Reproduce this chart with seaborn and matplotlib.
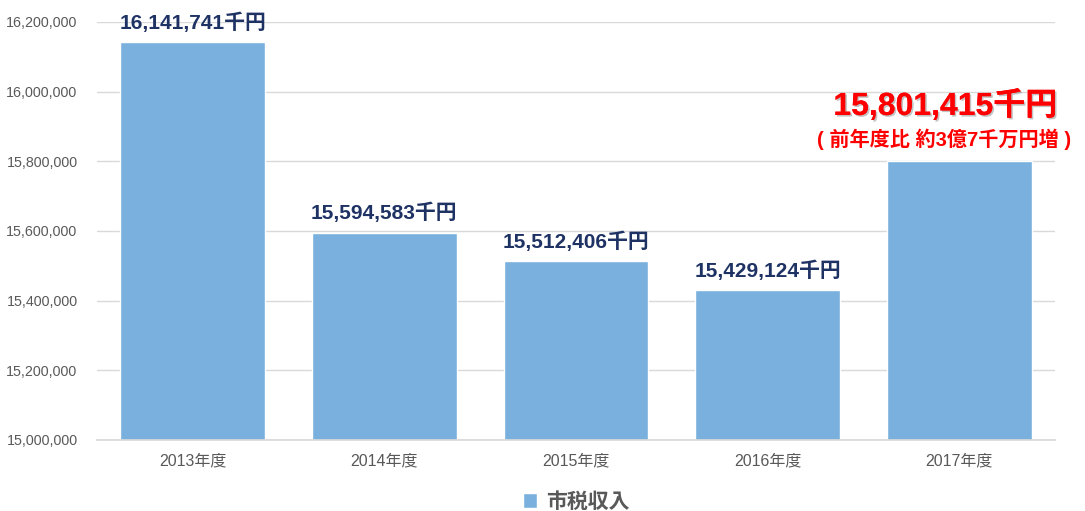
import matplotlib
matplotlib.use("Agg")
import matplotlib.pyplot as plt
import matplotlib.patheffects as pe
from matplotlib.ticker import FuncFormatter
import pandas as pd
import seaborn as sns

years = ["2013年度", "2014年度", "2015年度", "2016年度", "2017年度"]
revenue = [16141741000, 15594583000, 15512406000, 15429124000, 15801415000]
labels = ["16,141,741千円", "15,594,583千円", "15,512,406千円", "15,429,124千円", "15,801,415千円"]
note = "( 前年度比 約3億7千万円増 )"
series_name = "市税収入"

df = pd.DataFrame({"year": years, "revenue": [v / 1000 for v in revenue]})

sns.set_theme(style="whitegrid")
plt.rcParams["font.family"] = ["Liberation Sans", "Noto Sans CJK JP"]

fig = plt.figure(figsize=(10.85, 5.11), dpi=100)
ax = fig.add_axes([0.0894, 0.139, 0.883, 0.818])

bar_color = "#79B0DD"
sns.barplot(data=df, x="year", y="revenue", color=bar_color, width=0.755,
            saturation=1, label=series_name, ax=ax)

ax.set_ylim(15000000, 16200000)
ax.set_xlim(-0.5, 4.5)
ax.set_yticks(range(15000000, 16200001, 200000))
ax.yaxis.set_major_formatter(FuncFormatter(lambda v, p: f"{int(v):,}"))
ax.grid(axis="y", color="#D9D9D9", linewidth=1)
ax.grid(axis="x", visible=False)
ax.set_axisbelow(True)
for s in ["left", "right", "top"]:
    ax.spines[s].set_visible(False)
ax.spines["bottom"].set_color("#D9D9D9")
ax.set_xlabel("")
ax.set_ylabel("")
ax.tick_params(axis="y", labelsize=10.3, colors="#595959", length=0, pad=14)
ax.tick_params(axis="x", labelsize=11.5, colors="#595959", length=0, pad=10)
ax.set_facecolor("white")

navy = "#1F3264"
for i, (v, lab) in enumerate(zip(df["revenue"], labels)):
    if i == len(labels) - 1:
        continue
    ax.annotate(lab, (i, v), xytext=(0, 7), textcoords="offset points",
                ha="center", va="bottom", fontsize=15, fontweight="bold", color=navy)

shadow = [pe.withSimplePatchShadow(offset=(1.2, -1.2), shadow_rgbFace="#888888", alpha=0.5), pe.Normal()]
last = len(labels) - 1
ax.annotate(labels[last], (last, df["revenue"][last]), xytext=(-10, 28), textcoords="offset points",
            ha="center", va="bottom", fontsize=23, fontweight="bold", color="#FF0000",
            path_effects=shadow)
ax.annotate(note, (last, df["revenue"][last]), xytext=(-11, 8), textcoords="offset points",
            ha="center", va="bottom", fontsize=14.5, fontweight="bold", color="#FF0000")

leg = ax.legend(loc="center", bbox_to_anchor=(0.5, -0.148), frameon=False,
                handlelength=0.7, handleheight=0.7, handletextpad=0.4,
                prop={"size": 15, "weight": "bold"})
for t in leg.get_texts():
    t.set_color("#595959")

fig.savefig("out.png", dpi=100, facecolor="white")
